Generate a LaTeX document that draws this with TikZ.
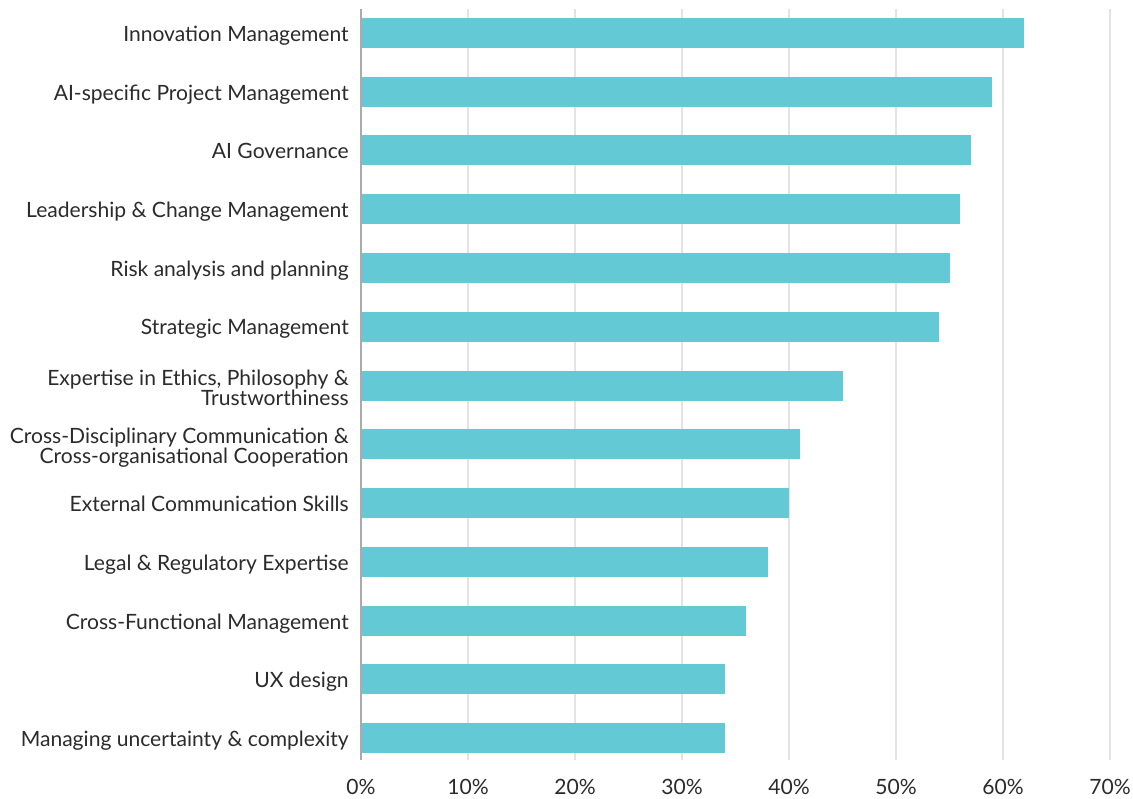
\documentclass[tikz,border=0pt]{standalone}
\usepackage{fontspec}
\setmainfont{Lato}
\begin{document}
\begin{tikzpicture}[x=0.75pt,y=-0.75pt,
  bar/.style={fill=barc,draw=none},
  grid/.style={draw=gridc,line width=1.5pt},
  lab/.style={anchor=base east,text=txtc,font=\fontsize{15.8pt}{14.8pt}\selectfont,align=right,inner sep=0pt},
  tick/.style={anchor=base,text=txtc,font=\fontsize{15.8pt}{14.8pt}\selectfont,inner sep=0pt}]
\definecolor{barc}{HTML}{63C9D4}
\definecolor{gridc}{HTML}{E3E3E3}
\definecolor{axisc}{HTML}{AAAAAA}
\definecolor{txtc}{HTML}{2B2B2B}
\useasboundingbox[fill=white] (0,0) rectangle (1133,799);
% gridlines
\foreach \k in {1,...,7} {
  \draw[grid] (361+107*\k,9) -- (361+107*\k,760);
}
% bars
\foreach \v/\t/\dy [count=\i from 0] in {
 62/{Innovation Management}/9,
 59/{AI-specific Project Management}/8.5,
 57/{AI Governance}/8.5,
 56/{Leadership \& Change Management}/8.5,
 55/{Risk analysis and planning}/8.5,
 54/{Strategic Management}/8,
 45/{Expertise in Ethics, Philosophy \&\\Trustworthiness}/19.5,
 41/{Cross-Disciplinary Communication \&\\Cross-organisational Cooperation}/19,
 40/{External Communication Skills}/8.5,
 38/{Legal \& Regulatory Expertise}/8.5,
 36/{Cross-Functional Management}/8.5,
 34/{UX design}/8,
 34/{Managing uncertainty \& complexity}/8.5} {
  \pgfmathsetmacro{\yc}{33+58.75*\i}
  \fill[bar] (361,\yc-15) rectangle (361+10.7*\v,\yc+15);
  \node[lab] (l\i) at (349,\yc+\dy) {\t};
}
% axis
\draw[draw=axisc,line width=1.2pt] (361,9) -- (361,760);
% tick labels
\foreach \k in {0,...,7} {
  \pgfmathtruncatemacro{\p}{10*\k}
  \node[tick] (t\k) at (361+107*\k,794) {\p\%};
}
\end{tikzpicture}
\end{document}
